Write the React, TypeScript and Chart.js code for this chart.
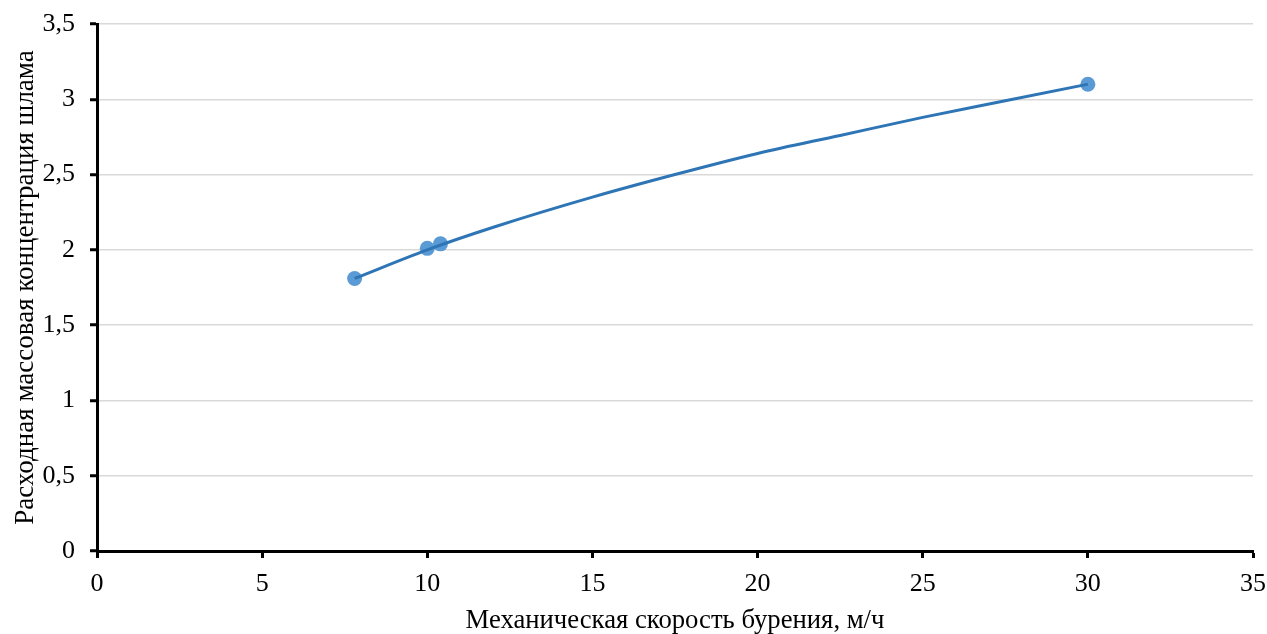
import React, { useEffect, useRef } from "react";
import { Chart, registerables } from "chart.js";

Chart.register(...registerables);

const pointX = [7.8, 10, 10.4, 30];
const pointY = [1.81, 2.01, 2.04, 3.1];

const trendX = [7.8, 10, 12, 15, 17.5, 20, 22.5, 25, 27.5, 30];
const trendY = [1.81, 2.0, 2.15, 2.35, 2.5, 2.64, 2.76, 2.88, 2.99, 3.1];

const xTitle = "Механическая скорость бурения, м/ч";
const yTitle = "Расходная массовая концентрация шлама";

const FONT = "'Liberation Serif', 'Times New Roman', serif";

export default function App() {
  const ref = useRef<HTMLCanvasElement | null>(null);
  useEffect(() => {
    if (!ref.current) return;
    const chart = new Chart(ref.current, {
      type: "scatter",
      data: {
        datasets: [
          {
            label: "trend",
            data: trendX.map((x, i) => ({ x, y: trendY[i] })),
            showLine: true,
            borderColor: "#2E75B6",
            borderWidth: 3,
            pointRadius: 0,
            cubicInterpolationMode: "monotone",
            order: 0,
          },
          {
            label: "points",
            data: pointX.map((x, i) => ({ x, y: pointY[i] })),
            backgroundColor: "#5B9BD5",
            borderColor: "#5B9BD5",
            borderWidth: 0,
            pointRadius: 7.5,
            showLine: false,
            order: 1,
          },
        ],
      },
      options: {
        animation: false,
        responsive: false,
        maintainAspectRatio: false,
        layout: { padding: { top: 24, right: 14, left: 0, bottom: 0 } },
        plugins: { legend: { display: false }, tooltip: { enabled: false } },
        scales: {
          x: {
            type: "linear",
            min: 0,
            max: 35,
            ticks: {
              stepSize: 5,
              color: "#000",
              font: { family: FONT, size: 26 },
              padding: 11,
            },
            grid: {
              drawOnChartArea: false,
              drawTicks: true,
              tickLength: 7,
              tickColor: "#000",
              tickWidth: 3,
            },
            border: { color: "#000", width: 3 },
            title: {
              display: true,
              text: xTitle,
              color: "#000",
              font: { family: FONT, size: 26.7, lineHeight: 1 },
              padding: { top: 14, bottom: 0 },
            },
            afterFit: (s: any) => {
              s.height = 83;
              s.paddingLeft = 0;
              s.paddingRight = 0;
            },
          },
          y: {
            type: "linear",
            min: 0,
            max: 3.5,
            ticks: {
              stepSize: 0.5,
              color: "#000",
              font: { family: FONT, size: 26 },
              padding: 15,
              callback: (v: any) => String(v).replace(".", ","),
            },
            grid: {
              color: "#d9d9d9",
              lineWidth: 1.5,
              drawTicks: true,
              tickLength: 7,
              tickColor: "#000",
              tickWidth: 3,
            },
            border: { color: "#000", width: 3 },
            title: {
              display: true,
              text: yTitle,
              color: "#000",
              font: { family: FONT, size: 27, lineHeight: 1 },
              padding: { top: 12, bottom: 4 },
            },
            afterFit: (s: any) => {
              s.width = 97;
              s.paddingTop = 0;
              s.paddingBottom = 0;
            },
          },
        },
      },
    });
    return () => chart.destroy();
  }, []);
  return (
    <div style={{ position: "fixed", left: 0, top: 0, width: 1267, height: 634, background: "#fff" }}>
      <canvas ref={ref} width={1267} height={634} style={{ width: 1267, height: 634 }} />
    </div>
  );
}
